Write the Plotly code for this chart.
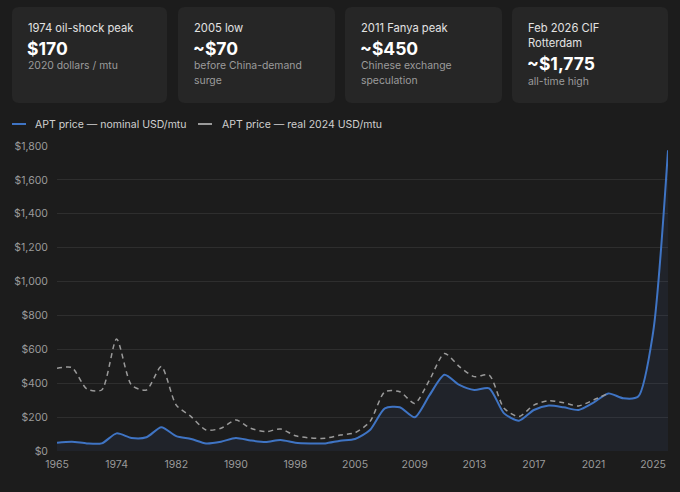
import plotly.graph_objects as go

# ---------------- data ----------------
years = ["1965", "1968", "1970", "1972", "1974", "1976", "1978", "1980", "1982", "1984",
         "1986", "1988", "1990", "1992", "1994", "1996", "1998", "2000", "2002", "2004",
         "2005", "2006", "2007", "2008", "2009", "2010", "2011", "2012", "2013", "2014",
         "2015", "2016", "2017", "2018", "2019", "2020", "2021", "2022", "2023", "2024",
         "2025", "2026"]
nominal = [49, 55, 45, 45, 104, 77, 81, 140, 88, 71,
           45, 55, 77, 62, 53, 65, 49, 45, 45, 61,
           71, 124, 252, 258, 199, 330, 450, 390, 360, 370,
           222, 179, 242, 268, 258, 242, 285, 340, 311, 321,
           700, 1775]
real_years = years[:38]
real = [488, 492, 366, 360, 661, 389, 360, 498, 271, 203,
        124, 134, 183, 134, 114, 130, 90, 77, 75, 94,
        108, 173, 350, 350, 281, 419, 576, 498, 439, 448,
        252, 203, 271, 297, 285, 266, 301, 340]
tick_years = ["1965", "1974", "1982", "1990", "1998", "2005", "2009", "2013", "2017", "2021", "2025"]
y_ticks = [0, 200, 400, 600, 800, 1000, 1200, 1400, 1600, 1800]
y_tick_labels = ["$0", "$200", "$400", "$600", "$800", "$1,000", "$1,200", "$1,400", "$1,600", "$1,800"]

card_titles = [["1974 oil-shock peak"], ["2005 low"], ["2011 Fanya peak"], ["Feb 2026 CIF", "Rotterdam"]]
card_values = ["$170", "~$70", "~$450", "~$1,775"]
card_subs = [["2020 dollars / mtu"], ["before China-demand", "surge"],
             ["Chinese exchange", "speculation"], ["all-time high"]]
legend_names = ["APT price — nominal USD/mtu", "APT price — real 2024 USD/mtu"]

# ---------------- layout geometry ----------------
W, H = 680, 492
PL, PR, PT, PB = 57, 668, 146, 451          # plot area in window pixels
L, R, T, B = PL, W - PR, PT, H - PB
PW, PH = W - L - R, H - T - B

def px(x):
    return (x - L) / PW

def py(y):
    return (H - B - y) / PH

BG = "#1c1c1c"
CARD = "#262626"
BLUE = "#3f74c4"
GRAY = "#9a9a9a"
FONT = "Inter"

fig = go.Figure()
fig.add_trace(go.Scatter(
    x=years, y=nominal, mode="lines", name=legend_names[0],
    line=dict(color=BLUE, width=2, shape="spline", smoothing=0.7),
    fill="tozeroy", fillcolor="rgba(70,100,170,0.10)",
    hoverinfo="skip", showlegend=False,
))
fig.add_trace(go.Scatter(
    x=real_years, y=real, mode="lines", name=legend_names[1],
    line=dict(color=GRAY, width=1.5, dash="5px,4px", shape="spline", smoothing=0.7),
    hoverinfo="skip", showlegend=False,
))

shapes = []
annotations = []

def text(t, x, y, size, color, bold=False):
    annotations.append(dict(text=f"<b>{t}</b>" if bold else t, x=px(x), y=py(y),
                            xref="paper", yref="paper", xanchor="left", yanchor="middle",
                            showarrow=False, font=dict(family=FONT, size=size, color=color)))

# cards
card_x = [(12, 167), (178, 335), (345, 502), (512, 668)]
cy0, cy1 = 7, 103
r = 7
rx, ry = r / PW, r / PH
for i, (x0, x1) in enumerate(card_x):
    X0, X1 = px(x0), px(x1)
    Y0, Y1 = py(cy1), py(cy0)
    path = (f"M {X0+rx},{Y0} L {X1-rx},{Y0} Q {X1},{Y0} {X1},{Y0+ry} "
            f"L {X1},{Y1-ry} Q {X1},{Y1} {X1-rx},{Y1} L {X0+rx},{Y1} "
            f"Q {X0},{Y1} {X0},{Y1-ry} L {X0},{Y0+ry} Q {X0},{Y0} {X0+rx},{Y0} Z")
    shapes.append(dict(type="path", path=path, xref="paper", yref="paper",
                       fillcolor=CARD, line=dict(width=0), layer="below"))
    tx = x0 + 14
    y = 28
    for line in card_titles[i]:
        text(line, tx, y, 11.2, "#e2e2e2")
        y += 15
    vy = y + 5
    text(card_values[i], tx - 1, vy, 17.5, "#ffffff", bold=True)
    y = vy + 18
    for line in card_subs[i]:
        text(line, tx, y, 10.4, "#9c9c9c")
        y += 14

# legend (drawn manually)
leg_y = 124
for (sx, tx), name, col in zip([(12, 33), (198, 220)], legend_names, [BLUE, GRAY]):
    shapes.append(dict(type="line", xref="paper", yref="paper",
                       x0=px(sx), x1=px(sx + 14), y0=py(leg_y), y1=py(leg_y),
                       line=dict(color=col, width=2)))
    text(name, tx, leg_y, 10.5, "#d0d0d0")

fig.update_layout(
    width=W, height=H,
    margin=dict(l=L, r=R, t=T, b=B),
    paper_bgcolor=BG, plot_bgcolor=BG,
    font=dict(family=FONT, color="#9a9a9a", size=10.5),
    shapes=shapes, annotations=annotations,
    showlegend=False,
)
fig.update_xaxes(
    type="category", categoryorder="array", categoryarray=years,
    range=[0, len(years) - 1],
    tickmode="array", tickvals=tick_years, ticktext=tick_years,
    showgrid=False, zeroline=False, showline=False, ticks="",
    ticklabelstandoff=5,
    tickfont=dict(family=FONT, size=10.5, color="#9a9a9a"),
    fixedrange=True,
)
fig.update_yaxes(
    range=[0, 1800], tickmode="array", tickvals=y_ticks, ticktext=y_tick_labels,
    showgrid=True, gridcolor="#2e2e2e", gridwidth=1, zeroline=False, showline=False,
    ticks="", ticklabelstandoff=8,
    tickfont=dict(family=FONT, size=10.5, color="#9a9a9a"),
    fixedrange=True,
)

fig.write_html(
    "out.html",
    config={"displayModeBar": False},
    post_script="document.body.style.margin='0';document.body.style.background='#1c1c1c';",
)
